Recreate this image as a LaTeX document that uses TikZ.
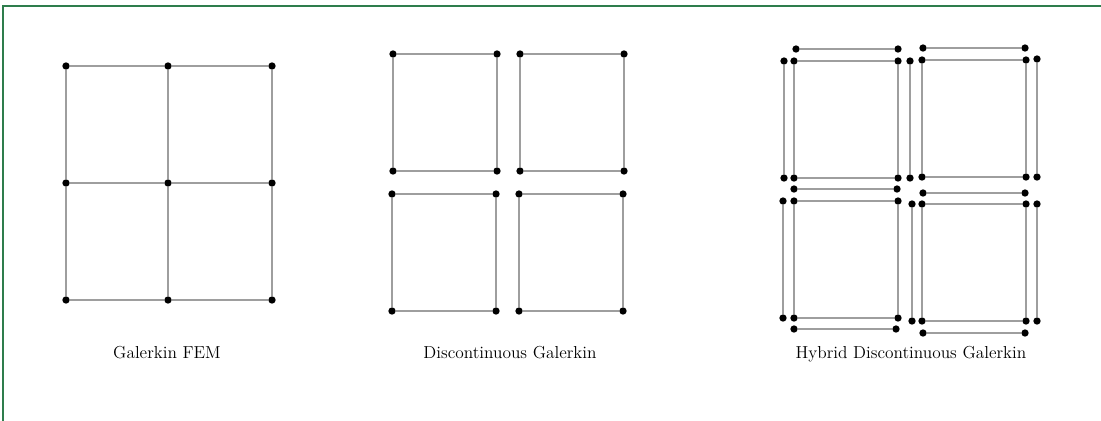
\documentclass[tikz,border=0pt]{standalone}
\definecolor{FrameGreen}{HTML}{2E7D4C}
\usepackage{tikz}
\usetikzlibrary{positioning}

\begin{document}
\begin{tikzpicture}[
  x=0.75pt, y=-0.75pt,
  dot/.style={circle, fill=black, inner sep=0pt, minimum width=5pt, minimum height=5.5pt},
  edge/.style={draw=black!38, line width=1.1pt},
  caption/.style={anchor=base, font=\fontsize{13}{15}\selectfont}
]
  \useasboundingbox (0,0) rectangle (1101,421);
  \draw[FrameGreen, line width=1.3pt] (3,421) -- (3,6) -- (1101,6);

  \foreach \c/\x in {0/66,1/168,2/272}
    \foreach \r/\y in {0/66,1/183,2/300}
      \node[dot] (g\c\r) at (\x,\y) {};
  \foreach \c in {0,1,2}
    \foreach \r/\s in {0/1,1/2}
      \draw[edge] (g\c\r) -- (g\c\s);
  \foreach \r in {0,1,2}
    \foreach \c/\d in {0/1,1/2}
      \draw[edge] (g\c\r) -- (g\d\r);
  \node[caption] (fem) at (167,358) {Galerkin FEM};

  \foreach \e/\x/\y in {a/393/54, b/520/54, c/392/194, d/519/194} {
    \node[dot] (\e1) at (\x,\y) {};
    \node[dot] (\e2) at (\x+104,\y) {};
    \node[dot] (\e3) at (\x+104,\y+117) {};
    \node[dot] (\e4) at (\x,\y+117) {};
    \draw[edge] (\e1) -- (\e2) -- (\e3) -- (\e4) -- (\e1);
  }
  \node[caption] (dg) at (510,358) {Discontinuous Galerkin};

  \foreach \e/\x/\y in {p/794/61, q/922/60, r/794/201, s/922/204} {
    \node[dot] (\e1) at (\x,\y) {};
    \node[dot] (\e2) at (\x+104,\y) {};
    \node[dot] (\e3) at (\x+104,\y+117) {};
    \node[dot] (\e4) at (\x,\y+117) {};
    \draw[edge] (\e1) -- (\e2) -- (\e3) -- (\e4) -- (\e1);
  }
  \foreach \f/\xa/\ya/\xb/\yb in {
      ft1/796/49/898/49, ft2/923/48/1025/48,
      fl1/784/61/784/178, fl2/783/201/783/318,
      fr1/1037/59/1037/177, fr2/1037/204/1037/321,
      fv1/910/61/910/178, fv2/912/204/912/321,
      fh1/794/189/897/189, fh2/923/193/1025/193,
      fb1/794/329/896/329, fb2/923/333/1025/333} {
    \node[dot] (\f-s) at (\xa,\ya) {};
    \node[dot] (\f-e) at (\xb,\yb) {};
    \draw[edge] (\f-s) -- (\f-e);
  }
  \node[caption] (hdg) at (911,358) {Hybrid Discontinuous Galerkin};
\end{tikzpicture}
\end{document}
